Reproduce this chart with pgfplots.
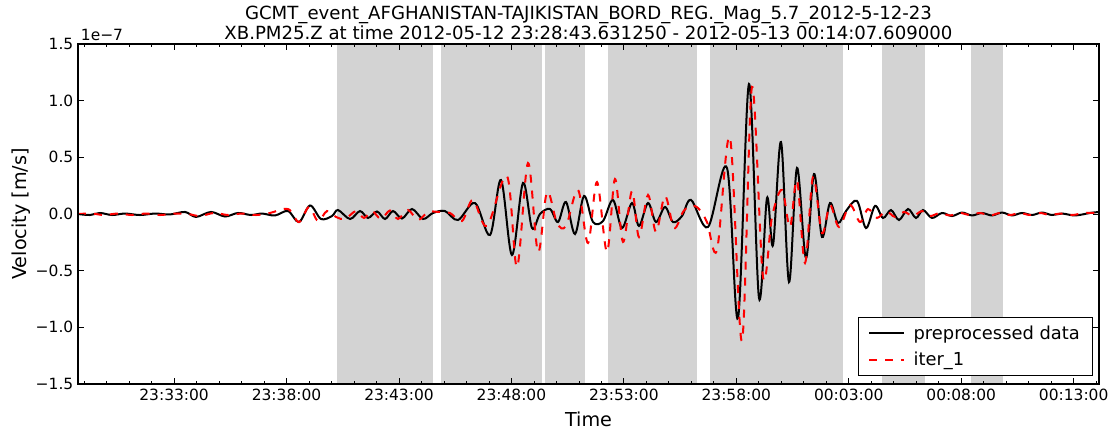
\documentclass[border=0pt]{standalone}
\usepackage{fontspec}
\setmainfont{DejaVu Sans}
\usepackage{pgfplots}
\pgfplotsset{compat=1.18}
\definecolor{winfill}{RGB}{211,211,211}
\begin{document}
\begin{tikzpicture}
\path[use as bounding box] (-58.5pt,-38.25pt) rectangle (775.5pt,288pt);
\begin{axis}[
  name=ax,
  at={(0pt,0pt)}, anchor=south west,
  scale only axis, width=765.75pt, height=255pt,
  xmin=28.727, xmax=74.127, ymin=-1.5, ymax=1.5,
  xtick={33,38,43,48,53,58,63,68,73},
  xticklabels={23:33:00,23:38:00,23:43:00,23:48:00,23:53:00,23:58:00,00:03:00,00:08:00,00:13:00},
  minor xtick={29,30,...,74},
  ytick={-1.5,-1,-0.5,0,0.5,1,1.5},
  yticklabels={−1.5,−1.0,−0.5,0.0,0.5,1.0,1.5},
  tick label style={font=\fontsize{11.6}{13}\selectfont},
  major tick length=4.2pt, minor tick length=2.1pt,
  tick style={black, line width=0.6pt},
  axis line style={line width=0.9pt},
  axis on top,
  xlabel={Time}, ylabel={Velocity [m/s]},
  label style={font=\fontsize{14.4}{17}\selectfont},
  ylabel style={yshift=-3pt},
  xlabel style={yshift=-2pt},
  title style={align=center, font=\fontsize{13.6}{15}\selectfont, yshift=-6pt},
  title={GCMT\_event\_AFGHANISTAN-TAJIKISTAN\_BORD\_REG.\_Mag\_5.7\_2012-5-12-23\\XB.PM25.Z at time 2012-05-12 23:28:43.631250 - 2012-05-13 00:14:07.609000},
  legend style={at={(1,0)}, anchor=south east, xshift=-4.5pt, yshift=6pt,
    draw=black, line width=0.8pt, fill=white, inner xsep=7.5pt, inner ysep=4pt,
    font=\fontsize{13.4}{16}\selectfont, row sep=4pt, column sep=4.5pt},
  legend cell align=left,
  legend image code/.code={\draw[#1] (0pt,0pt) -- (26pt,0pt);},
]
% time windows
\addplot[fill=winfill, draw=none, forget plot] coordinates {(40.244,-1.5) (44.513,-1.5) (44.513,1.5) (40.244,1.5)} -- cycle;
\addplot[fill=winfill, draw=none, forget plot] coordinates {(44.869,-1.5) (49.360,-1.5) (49.360,1.5) (44.869,1.5)} -- cycle;
\addplot[fill=winfill, draw=none, forget plot] coordinates {(49.493,-1.5) (51.273,-1.5) (51.273,1.5) (49.493,1.5)} -- cycle;
\addplot[fill=winfill, draw=none, forget plot] coordinates {(52.296,-1.5) (56.252,-1.5) (56.252,1.5) (52.296,1.5)} -- cycle;
\addplot[fill=winfill, draw=none, forget plot] coordinates {(56.831,-1.5) (62.747,-1.5) (62.747,1.5) (56.831,1.5)} -- cycle;
\addplot[fill=winfill, draw=none, forget plot] coordinates {(64.477,-1.5) (66.390,-1.5) (66.390,1.5) (64.477,1.5)} -- cycle;
\addplot[fill=winfill, draw=none, forget plot] coordinates {(68.437,-1.5) (69.860,-1.5) (69.860,1.5) (68.437,1.5)} -- cycle;
% preprocessed data
\addplot[black, line width=1.5pt, smooth, tension=0.55] coordinates {
(28.727,0) (29.261,-0.009) (29.705,0.009) (30.239,-0.009) (30.817,0.004) (31.484,-0.009)
(32.151,0.004) (32.818,-0.004) (33.485,0.018) (33.974,-0.026) (34.641,0.018) (35.264,-0.022)
(35.842,0.009) (36.420,-0.009) (36.909,0.004) (37.487,-0.013) (38.065,0.026) (38.554,-0.071)
(39.043,0.075) (39.532,-0.044) (40.021,-0.018) (40.288,0.035) (40.822,-0.044) (41.266,0.026)
(41.622,-0.035) (42.022,0.022) (42.378,-0.044) (42.734,0.026) (43.134,-0.040) (43.579,0.044)
(44.068,-0.044) (44.512,0.009) (45.046,0.026) (45.624,-0.053) (46.380,0.097) (47.047,-0.185)
(47.536,0.300) (48.025,-0.362) (48.514,0.274) (48.915,-0.124) (49.270,0) (49.715,0.044)
(50.071,-0.071) (50.426,0.106) (50.826,-0.177) (51.227,0.159) (51.627,-0.071) (52.072,-0.062)
(52.516,0.124) (52.917,-0.124) (53.361,0.097) (53.672,-0.106) (54.073,0.097) (54.428,-0.071)
(54.829,0.062) (55.184,-0.071) (55.584,-0.018) (55.985,0.124) (56.741,-0.115) (57.585,0.406)
(58.075,-0.918) (58.564,1.147) (59.008,-0.741) (59.364,0.141) (59.631,-0.274) (59.987,0.635)
(60.342,-0.600) (60.698,0.406) (61.098,-0.388) (61.454,0.353) (61.810,-0.203) (62.165,0.097)
(62.521,-0.079) (62.877,0.026) (63.366,0.115) (63.766,-0.124) (64.167,0.071) (64.522,-0.035)
(64.878,0.035) (65.233,-0.053) (65.633,0.044) (65.989,-0.035) (66.301,0.035) (66.701,-0.035)
(67.146,0.009) (67.590,-0.018) (68.035,0.013) (68.480,-0.013) (68.924,0.009) (69.369,-0.013)
(69.814,0.013) (70.258,-0.013) (70.703,0.009) (71.148,-0.009) (71.592,0.013) (72.037,-0.009)
(72.482,0.004) (73.060,-0.013) (73.726,0.009) (74.127,0.018)
};
\addlegendentry{preprocessed data}
% iter_1
\addplot[red, line width=1.5pt, dash pattern=on 6pt off 6pt, smooth, tension=0.55] coordinates {
(28.727,0) (29.350,0.004) (29.883,-0.009) (30.506,0.004) (31.128,-0.009) (31.751,0.004)
(32.373,-0.009) (32.996,0.004) (33.618,0) (34.152,-0.018) (34.774,0.009) (35.397,-0.009)
(36.019,0.004) (36.642,-0.009) (37.264,0.009) (38.065,0.044) (38.554,-0.071) (38.999,0.062)
(39.399,-0.062) (39.799,0.026) (40.199,-0.026) (40.599,-0.044) (41.089,0.026) (41.444,-0.035)
(41.800,0.026) (42.200,-0.044) (42.600,0.031) (42.956,-0.044) (43.401,0.035) (43.845,-0.053)
(44.290,0.018) (44.735,0.018) (45.268,0.009) (45.802,-0.062) (46.291,0.124) (46.914,-0.106)
(47.803,0.335) (48.248,-0.468) (48.737,0.450) (49.181,-0.335) (49.582,0.194) (50.026,-0.079)
(50.426,-0.106) (50.960,0.212) (51.405,-0.256) (51.805,0.282) (52.249,-0.335) (52.605,0.309)
(52.961,-0.247) (53.361,0.203) (53.672,-0.203) (54.073,0.168) (54.428,-0.159) (54.829,0.159)
(55.229,-0.124) (55.629,0.018) (55.940,0.071) (56.296,0.053) (56.696,-0.071) (57.141,-0.318)
(57.719,0.671) (58.252,-1.121) (58.697,1.121) (59.186,-0.556) (59.587,-0.026) (60.031,0.212)
(60.387,-0.115) (60.698,0.300) (61.054,-0.432) (61.409,0.327) (61.810,-0.168) (62.165,0.079)
(62.566,-0.115) (63.055,0.079) (63.499,-0.071) (63.855,0.044) (64.255,-0.035) (64.655,0.026)
(65.056,-0.026) (65.456,0.018) (65.856,-0.018) (66.256,0.026) (66.612,-0.018) (67.057,0.009)
(67.501,-0.013) (67.946,0.009) (68.391,-0.009) (68.835,0.009) (69.280,-0.013) (69.725,0.009)
(70.169,-0.009) (70.614,0.009) (71.059,-0.009) (71.503,0.009) (71.948,-0.009) (72.392,0.004)
(72.926,-0.009) (73.506,0.009) (74.127,0.009)
};
\addlegendentry{iter\_1}
\end{axis}
\node[anchor=south west, font=\fontsize{11.6}{13}\selectfont, inner sep=0pt, xshift=2pt, yshift=2pt] at (ax.north west) {1e−7};
\end{tikzpicture}
\end{document}
